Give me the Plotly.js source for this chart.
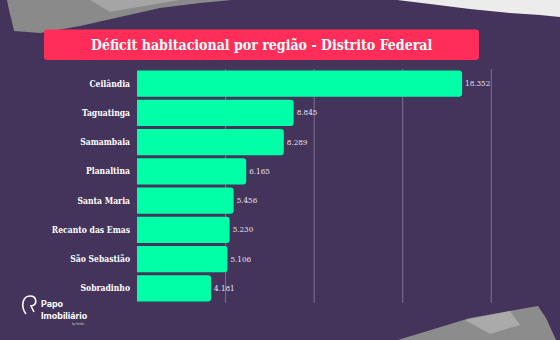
<!DOCTYPE html>
<html>
<head>
<meta charset="utf-8">
<script src="https://cdn.plot.ly/plotly-3.0.1.min.js"></script>
<style>
html,body{margin:0;padding:0;background:#44345b;}
#chart{width:560px;height:340px;}
</style>
</head>
<body>
<div id="chart"></div>
<script>
const categories = ["Ceilândia","Taguatinga","Samambaia","Planaltina","Santa Maria","Recanto das Emas","São Sebastião","Sobradinho"];
const values = [18352, 8845, 8289, 6165, 5456, 5230, 5106, 4181];
const valueLabels = ["18.352","8.845","8.289","6.165","5.456","5.230","5.106","4.181"];
const gridValues = [5000, 10000, 15000, 20000];
const xRange = [0, 21000];
const titleText = "Déficit habitacional por região - Distrito Federal";

const W = 560, H = 340;
const M = {l: 137, r: 51, t: 69, b: 37};
const PW = W - M.l - M.r, PH = H - M.t - M.b;
function px(x){ return (x - M.l) / PW; }
function py(y){ return (H - M.b - y) / PH; }
function P(x,y){ return px(x).toFixed(4) + ',' + py(y).toFixed(4); }
function poly(pts){
  return pts.map((p,i)=> (i?'L':'M') + P(p[0],p[1])).join(' ') + ' Z';
}
function rrect(x0,y0,x1,y1,r){
  return 'M' + P(x0+r,y0) + ' L' + P(x1-r,y0) + ' Q' + P(x1,y0) + ' ' + P(x1,y0+r) +
         ' L' + P(x1,y1-r) + ' Q' + P(x1,y1) + ' ' + P(x1-r,y1) +
         ' L' + P(x0+r,y1) + ' Q' + P(x0,y1) + ' ' + P(x0,y1-r) +
         ' L' + P(x0,y0+r) + ' Q' + P(x0,y0) + ' ' + P(x0+r,y0) + ' Z';
}

const trace = {
  type: 'bar',
  orientation: 'h',
  y: categories,
  x: values,
  text: valueLabels,
  textposition: 'outside',
  cliponaxis: false,
  textfont: {family: '"DejaVu Serif Condensed", "DejaVu Serif", serif', size: 8, color: '#e6e2ec'},
  marker: {color: '#00ffa6', cornerradius: 3, line: {width: 0}},
  hoverinfo: 'skip'
};

// gridlines drawn as paper-referenced lines at the axis fraction of each grid value
const gridShapes = gridValues.map(v => ({
  type: 'line', xref: 'paper', yref: 'paper',
  x0: (v - xRange[0]) / (xRange[1] - xRange[0]), x1: (v - xRange[0]) / (xRange[1] - xRange[0]),
  y0: 0, y1: 1,
  layer: 'below', line: {color: '#7c7190', width: 1}
}));

const layout = {
  width: W, height: H,
  margin: M,
  paper_bgcolor: '#44345b',
  plot_bgcolor: 'rgba(0,0,0,0)',
  showlegend: false,
  bargap: 0.11,
  xaxis: {
    range: xRange,
    showgrid: false,
    zeroline: false,
    showticklabels: false,
    ticks: '',
    showline: false,
    fixedrange: true
  },
  yaxis: {
    autorange: 'reversed',
    showgrid: false,
    zeroline: false,
    showline: false,
    ticks: '',
    ticklabelstandoff: 6,
    tickfont: {family: '"DejaVu Serif Condensed", "DejaVu Serif", serif', size: 8.5, color: '#ffffff', weight: 'bold'},
    fixedrange: true
  },
  shapes: [
    {type: 'path', xref: 'paper', yref: 'paper', layer: 'below', line: {width: 0}, fillcolor: '#8a8a8a',
     path: poly([[7,0],[9,10],[12,22],[14,31],[40,33],[80,26],[120,17],[160,8],[200,3],[232,0]])},
    {type: 'path', xref: 'paper', yref: 'paper', layer: 'below', line: {width: 0}, fillcolor: '#a5a5a5',
     path: poly([[90,0],[110,12],[150,5],[180,0]])},
    {type: 'path', xref: 'paper', yref: 'paper', layer: 'below', line: {width: 0}, fillcolor: '#ececec',
     path: poly([[397,0],[430,4],[470,9],[510,13],[540,15],[560,17],[560,0]])},
    {type: 'path', xref: 'paper', yref: 'paper', layer: 'below', line: {width: 0}, fillcolor: '#8c8c8c',
     path: poly([[398,340],[470,318],[538,306],[546,318],[556,340]])},
    {type: 'path', xref: 'paper', yref: 'paper', layer: 'below', line: {width: 0}, fillcolor: '#aaaaaa',
     path: poly([[465,320],[510,311],[520,325],[490,334]])},
    {type: 'path', xref: 'paper', yref: 'paper', layer: 'below', line: {width: 0}, fillcolor: '#ff2d57',
     path: rrect(44, 29.5, 479, 60, 3)},
    {type: 'path', xref: 'paper', yref: 'paper', line: {width: 1.6, color: '#ffffff'},
     path: 'M' + P(26,314) + ' C' + P(20,306) + ' ' + P(23,296) + ' ' + P(30,296) +
           ' C' + P(37,296) + ' ' + P(38,305) + ' ' + P(31,306) + ' L' + P(34,312)}
  ].concat(gridShapes),
  annotations: [
    {xref: 'paper', yref: 'paper', x: px(261.5), y: py(45.5), xanchor: 'center', yanchor: 'middle', showarrow: false,
     text: titleText, font: {family: '"DejaVu Serif Condensed", "DejaVu Serif", serif', size: 14, color: '#ffffff', weight: 'bold'}},
    {xref: 'paper', yref: 'paper', x: px(39), y: py(296), xanchor: 'left', yanchor: 'top', showarrow: false, align: 'left',
     text: 'Papo<br>Imobiliário', font: {family: 'Inter, "Noto Sans", sans-serif', size: 9, color: '#ffffff', weight: 'bold'}},
    {xref: 'paper', yref: 'paper', x: px(70), y: py(320), xanchor: 'left', yanchor: 'top', showarrow: false,
     text: 'by Imobi', font: {family: 'Inter, sans-serif', size: 3, color: '#cccccc'}}
  ]
};

Plotly.newPlot('chart', [trace], layout, {displayModeBar: false, staticPlot: true});
</script>
</body>
</html>
